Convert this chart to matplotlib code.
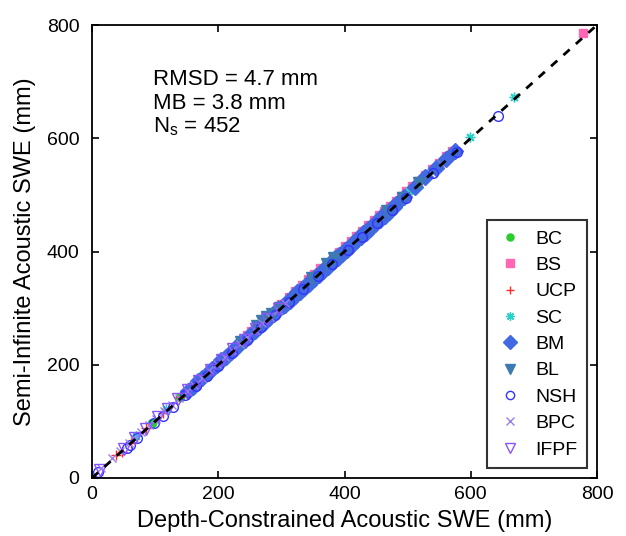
import matplotlib.pyplot as plt
import numpy as np

# site data: depth-constrained (x) vs semi-infinite (y) acoustic SWE, mm
bc_x = [95, 140, 175, 205, 225, 248, 262, 278, 290, 305, 318, 332, 345, 358, 372, 385, 398, 412, 430]
bc_y = [97, 143, 178, 207, 229, 251, 265, 281, 293, 308, 321, 335, 348, 361, 375, 388, 401, 415, 433]

bs_x = [245, 252, 258, 300, 312, 322, 333, 342, 352, 361, 372, 381, 391, 400, 410, 419, 428,
        438, 447, 455, 463, 472, 481, 490, 498, 507, 517, 527, 538, 549, 561, 570, 778]
bs_y = [253, 260, 266, 308, 320, 331, 341, 351, 360, 370, 380, 390, 399, 409, 418, 428, 437,
        447, 455, 464, 472, 481, 489, 498, 507, 515, 525, 535, 546, 557, 569, 578, 786]

ucp_x = [38, 48, 62, 85, 112, 140, 168, 198, 226, 248, 268, 292, 318, 344]
ucp_y = [40, 46, 62, 88, 114, 143, 170, 200, 229, 252, 270, 295, 320, 347]

sc_x = [70, 118, 152, 183, 212, 238, 264, 287, 312, 338, 366, 392, 420, 448, 474, 502, 531, 556, 599, 668]
sc_y = [74, 121, 156, 187, 216, 243, 268, 291, 316, 343, 370, 397, 425, 452, 479, 506, 536, 562, 602, 672]

bm_x = [152, 160, 168, 175, 183, 190, 198, 205, 212, 220, 228, 235, 243, 250, 258, 265, 272, 280,
        288, 295, 302, 306, 310, 314, 318, 322, 325, 329, 332, 336, 340, 344, 348, 352, 355, 359,
        362, 366, 370, 374, 378, 382, 385, 389, 392, 396, 400, 404, 407, 411, 415, 419, 422, 426,
        430, 434, 437, 441, 445, 449, 452, 456, 460, 464, 467, 471, 475, 479, 482, 495, 512, 528,
        545, 560, 575]
bm_y = [154, 161, 171, 176, 186, 192, 199, 208, 213, 223, 229, 238, 244, 253, 259, 267, 274, 283,
        289, 298, 304, 305, 312, 313, 320, 321, 328, 328, 333, 335, 343, 343, 349, 351, 357, 358,
        364, 365, 372, 373, 379, 381, 388, 388, 393, 395, 403, 403, 408, 410, 417, 418, 424, 425,
        432, 433, 439, 440, 447, 448, 454, 455, 462, 463, 468, 470, 477, 478, 484, 497, 514, 531,
        547, 563, 578]

bl_x = [236, 262, 270, 278, 285, 298, 348, 372, 383, 468, 492, 518]
bl_y = [240, 268, 277, 284, 289, 301, 353, 378, 388, 472, 494, 521]

nsh_x = [10, 55, 60, 72, 98, 112, 128, 148, 165, 182, 200, 222, 245, 268, 290, 312, 335, 358,
         380, 405, 428, 452, 476, 497, 540, 578, 643]
nsh_y = [11, 53, 58, 70, 97, 110, 126, 146, 162, 180, 198, 220, 243, 266, 288, 310, 333, 356,
         378, 402, 426, 450, 474, 495, 538, 575, 640]

bpc_x = [15, 32, 45, 58, 66, 78, 90, 102, 114, 126, 138, 150, 162, 174, 186, 198, 210, 222,
         234, 246, 258, 270, 282, 294, 306]
bpc_y = [18, 35, 47, 61, 70, 81, 93, 105, 118, 129, 141, 154, 165, 177, 190, 201, 213, 226,
         237, 249, 262, 273, 285, 297, 309]

ifpf_x = [12, 50, 68, 85, 104, 120, 136, 152, 170, 188, 206, 224, 242, 260, 278, 296]
ifpf_y = [14, 52, 71, 87, 107, 122, 139, 155, 172, 191, 208, 227, 244, 263, 280, 299]

sites = [
    ('BC', bc_x, bc_y, 'o', '#2ecc2e', True, 6),
    ('BS', bs_x, bs_y, 's', '#ff66b3', True, 6),
    ('UCP', ucp_x, ucp_y, '+', '#ff2a2a', True, 7),
    ('SC', sc_x, sc_y, (8, 2, 0), '#2ad1c9', True, 7),
    ('BM', bm_x, bm_y, 'D', '#4169e1', True, 8),
    ('BL', bl_x, bl_y, 'v', '#3d7ab3', True, 8),
    ('NSH', nsh_x, nsh_y, 'o', '#3333ff', False, 7),
    ('BPC', bpc_x, bpc_y, 'x', '#9b80e8', True, 6),
    ('IFPF', ifpf_x, ifpf_y, 'v', '#8855ff', False, 8),
]

plt.rcParams['font.family'] = 'Liberation Sans'
fig = plt.figure(figsize=(6.26, 5.36), dpi=100)
ax = fig.add_axes([92 / 626, 58 / 536, 505 / 626, 453 / 536])

for name, xs, ys, mk, col, filled, ms in sites:
    if filled:
        ax.plot(xs, ys, linestyle='none', marker=mk, color=col, markersize=ms,
                markeredgewidth=1, label=name)
    else:
        ax.plot(xs, ys, linestyle='none', marker=mk, markerfacecolor='none',
                markeredgecolor=col, markersize=ms, markeredgewidth=1, label=name)

ax.plot([0, 800], [0, 800], 'k--', lw=2, dashes=(3, 3))

ax.set_xlim(0, 800)
ax.set_ylim(0, 800)
ax.set_xticks([0, 200, 400, 600, 800])
ax.set_yticks([0, 200, 400, 600, 800])
ax.tick_params(direction='in', top=True, right=True, labelsize=14, length=5, width=1.2)
ax.tick_params(axis='y', pad=9)
ax.tick_params(axis='x', pad=6)
for s in ax.spines.values():
    s.set_linewidth(1.3)
ax.set_xlabel('Depth-Constrained Acoustic SWE (mm)', fontsize=17, labelpad=5)
ax.set_ylabel('Semi-Infinite Acoustic SWE (mm)', fontsize=17, labelpad=8)

ax.text(97, 703, 'RMSD = 4.7 mm', fontsize=16, va='center')
ax.text(97, 661, 'MB = 3.8 mm', fontsize=16, va='center')
ax.text(97, 620, r'N$_{\mathregular{s}}$ = 452', fontsize=16, va='center')

leg = ax.legend(loc='lower right', fontsize=14, frameon=True, fancybox=False,
                edgecolor='black', borderaxespad=0.5, labelspacing=0.45,
                handletextpad=0.6, borderpad=0.5, handlelength=1.4, markerscale=0.85)
leg.get_frame().set_linewidth(1.5)

plt.savefig('out.png', dpi=100)
